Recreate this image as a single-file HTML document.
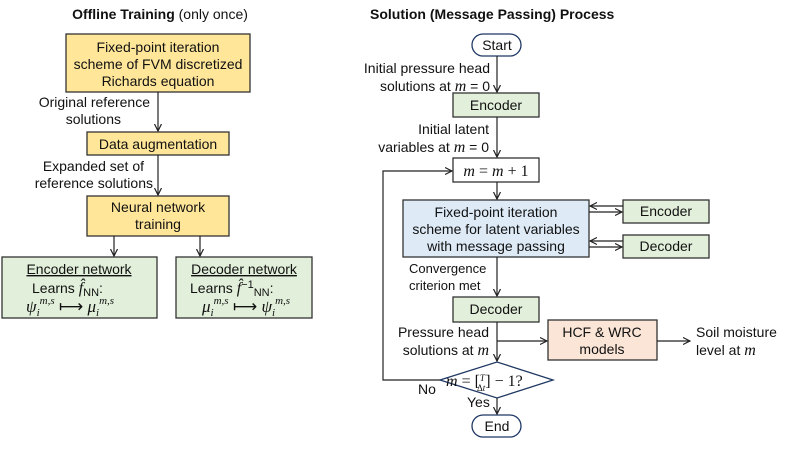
<!DOCTYPE html>
<html><head><meta charset="utf-8"><style>
body{margin:0;background:#fff;width:793px;height:444px;overflow:hidden}
svg{font-family:"Liberation Sans",sans-serif;font-size:14px}
.m{font-family:"Liberation Serif",serif;font-style:italic}
</style></head><body>
<svg width="793" height="444" viewBox="0 0 793 444" xmlns="http://www.w3.org/2000/svg">
<defs><marker id="a" markerWidth="8" markerHeight="8" refX="7" refY="4" orient="auto" markerUnits="userSpaceOnUse"><path d="M0,0.5 L7,4 L0,7.5" fill="none" stroke="#222" stroke-width="1.2"/></marker></defs>
<g stroke="#333" stroke-width="1.3">
<rect x="66" y="34" width="184" height="58" fill="#FFE699"/>
<rect x="87" y="132" width="142" height="23" fill="#FFE699"/>
<rect x="87" y="196" width="142" height="40" fill="#FFE699"/>
<rect x="2" y="257" width="155" height="61" fill="#E2EFDA"/>
<rect x="176" y="257" width="136" height="61" fill="#E2EFDA"/>
<rect x="472" y="34" width="49" height="22" rx="11" fill="#fff" stroke="#1F3864"/>
<rect x="453" y="93" width="86" height="24" fill="#E2EFDA"/>
<rect x="453" y="158" width="86" height="24" fill="#fff"/>
<rect x="403" y="200" width="186" height="57" fill="#DEEBF7"/>
<rect x="623" y="200" width="86" height="23" fill="#E2EFDA"/>
<rect x="623" y="235" width="86" height="23" fill="#E2EFDA"/>
<rect x="453" y="297" width="86" height="25" fill="#E2EFDA"/>
<rect x="548" y="320" width="109" height="40" fill="#FBE5D6"/>
<polygon points="440,380 497,362 553,380 497,398" fill="#fff" stroke="#1F3864"/>
<rect x="472" y="415" width="49" height="22" rx="11" fill="#fff" stroke="#1F3864"/>
</g>
<g stroke="#222" stroke-width="1.2" fill="none" marker-end="url(#a)">
<line x1="158" y1="92" x2="158" y2="131"/>
<line x1="158" y1="155" x2="158" y2="195"/>
<line x1="114" y1="236" x2="114" y2="256"/>
<line x1="200" y1="236" x2="200" y2="256"/>
<line x1="497" y1="56" x2="497" y2="92"/>
<line x1="497" y1="117" x2="497" y2="157"/>
<line x1="497" y1="182" x2="497" y2="199"/>
<line x1="497" y1="257" x2="497" y2="296"/>
<line x1="497" y1="322" x2="497" y2="361"/>
<line x1="497" y1="341" x2="547" y2="341"/>
<line x1="657" y1="341" x2="690" y2="341"/>
<line x1="497" y1="398" x2="497" y2="414"/>
<polyline points="440,380 383,380 383,171 452,171"/>
<line x1="589" y1="212" x2="622" y2="212"/>
<line x1="623" y1="206" x2="590" y2="206"/>
<line x1="589" y1="247" x2="622" y2="247"/>
<line x1="623" y1="241" x2="590" y2="241"/>
</g>
<g fill="#111">
<text x="160" y="19" text-anchor="middle"><tspan font-weight="bold">Offline Training</tspan> (only once)</text>
<text x="158" y="52" text-anchor="middle">Fixed-point iteration</text>
<text x="158" y="69" text-anchor="middle">scheme of FVM discretized</text>
<text x="158" y="86" text-anchor="middle">Richards equation</text>
<text x="150" y="107" text-anchor="end">Original reference</text>
<text x="121" y="124" text-anchor="end">solutions</text>
<text x="158" y="149" text-anchor="middle">Data augmentation</text>
<text x="144" y="171" text-anchor="end">Expanded set of</text>
<text x="153" y="188" text-anchor="end">reference solutions</text>
<text x="158" y="212" text-anchor="middle">Neural network</text>
<text x="158" y="229" text-anchor="middle">training</text>
<text x="79" y="274" text-anchor="middle" text-decoration="underline">Encoder network</text>
<text x="244" y="274" text-anchor="middle" text-decoration="underline">Decoder network</text>
<text x="32" y="293">Learns <tspan class="m" font-size="16">f̂</tspan><tspan font-size="11" dy="3">NN</tspan><tspan dy="-3">:</tspan></text>
<text x="26" y="312" class="m" font-size="17">ψ<tspan font-size="11" dy="4">i</tspan><tspan font-size="11" dy="-12">m,s</tspan><tspan dy="8" font-style="normal"> ⟼ </tspan>μ<tspan font-size="11" dy="4">i</tspan><tspan font-size="11" dy="-12">m,s</tspan></text>
<text x="190" y="293">Learns <tspan class="m" font-size="16">f̂</tspan><tspan font-size="11" dy="-5">−1</tspan><tspan font-size="11" dy="8">NN</tspan><tspan dy="-3">:</tspan></text>
<text x="202" y="312" class="m" font-size="17">μ<tspan font-size="11" dy="4">i</tspan><tspan font-size="11" dy="-12">m,s</tspan><tspan dy="8" font-style="normal"> ⟼ </tspan>ψ<tspan font-size="11" dy="4">i</tspan><tspan font-size="11" dy="-12">m,s</tspan></text>

<text x="370" y="19" font-weight="bold">Solution (Message Passing) Process</text>
<text x="497" y="50" text-anchor="middle">Start</text>
<text x="490" y="73" text-anchor="end">Initial pressure head</text>
<text x="490" y="91" text-anchor="end">solutions at <tspan class="m" font-size="16">m</tspan> = 0</text>
<text x="496" y="110" text-anchor="middle">Encoder</text>
<text x="489" y="134" text-anchor="end">Initial latent</text>
<text x="489" y="152" text-anchor="end">variables at <tspan class="m" font-size="16">m</tspan> = 0</text>
<text x="496" y="176" text-anchor="middle" font-family="Liberation Serif" font-size="16"><tspan class="m">m</tspan> = <tspan class="m">m</tspan> + 1</text>
<text x="496" y="217" text-anchor="middle">Fixed-point iteration</text>
<text x="496" y="234" text-anchor="middle">scheme for latent variables</text>
<text x="496" y="251" text-anchor="middle">with message passing</text>
<text x="666" y="216" text-anchor="middle">Encoder</text>
<text x="666" y="251" text-anchor="middle">Decoder</text>
<text x="409" y="273" font-size="13">Convergence</text>
<text x="409" y="290" font-size="13">criterion met</text>
<text x="496" y="314" text-anchor="middle">Decoder</text>
<text x="489" y="337" text-anchor="end">Pressure head</text>
<text x="489" y="355" text-anchor="end">solutions at <tspan class="m" font-size="16">m</tspan></text>
<text x="602" y="337" text-anchor="middle">HCF &amp; WRC</text>
<text x="602" y="354" text-anchor="middle">models</text>
<text x="696" y="337">Soil moisture</text>
<text x="696" y="355">level at <tspan class="m" font-size="16">m</tspan></text>
<text x="446" y="386" font-family="Liberation Serif" font-size="16"><tspan class="m">m</tspan> = [<tspan font-size="9" dy="-5" class="m">T</tspan><tspan font-size="9" dx="-8" dy="10">Δ<tspan class="m">t</tspan></tspan><tspan dy="-5">] − 1?</tspan></text>
<text x="418" y="394">No</text>
<text x="467" y="407">Yes</text>
<text x="497" y="431" text-anchor="middle">End</text>
</g>
</svg>
</body></html>
